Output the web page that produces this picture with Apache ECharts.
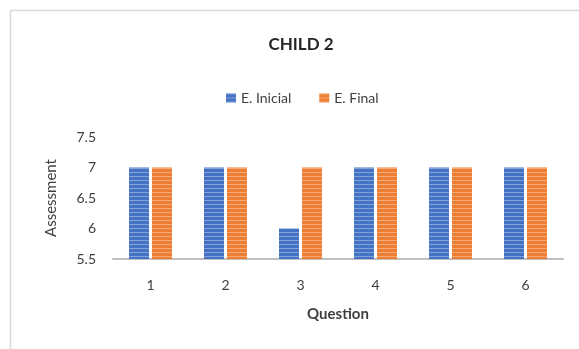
<!DOCTYPE html>
<html>
<head>
<meta charset="utf-8">
<script src="https://cdn.jsdelivr.net/npm/echarts@6/dist/echarts.min.js"></script>
<style>
  html, body { margin: 0; padding: 0; background: #fff; }
  #chart { width: 579px; height: 349px; }
</style>
</head>
<body>
<div id="chart"></div>
<script>
// data
const questions = ['1', '2', '3', '4', '5', '6'];
const inicial = [7, 7, 6, 7, 7, 7];
const final = [7, 7, 7, 7, 7, 7];

const font = 'Lato, "Open Sans", sans-serif';

// horizontal light stripes on the bars
const stripes = {
  symbol: 'rect',
  symbolSize: 1,
  dashArrayX: [1, 0],
  dashArrayY: [1, 2.6],
  rotation: 0,
  color: 'rgba(255,255,255,0.35)'
};

const myChart = echarts.init(document.getElementById('chart'));

const option = {
  animation: false,
  color: ['#4472c4', '#ed7d31'],
  title: {
    text: 'CHILD 2',
    left: 296,
    textAlign: 'center',
    top: 31,
    textStyle: { fontFamily: font, fontSize: 17, fontWeight: 'bold', color: '#262626' }
  },
  legend: {
    left: 221,
    top: 86,
    itemWidth: 10,
    itemHeight: 9,
    itemGap: 28,
    icon: 'rect',
    textStyle: { fontFamily: font, fontSize: 14, color: '#404040' },
    data: ['E. Inicial', 'E. Final']
  },
  grid: { left: 113, right: 16, top: 137, bottom: 90 },
  xAxis: {
    type: 'category',
    data: questions,
    name: 'Question',
    nameLocation: 'middle',
    nameGap: 48,
    nameTextStyle: { fontFamily: font, fontSize: 15, fontWeight: 'bold', color: '#404040' },
    axisLine: { lineStyle: { color: '#bfbfbf', width: 2 } },
    axisTick: { show: false },
    axisLabel: { margin: 19, fontFamily: font, fontSize: 14, color: '#404040' }
  },
  yAxis: {
    type: 'value',
    min: 5.5,
    max: 7.5,
    interval: 0.5,
    name: 'Assessment',
    nameLocation: 'middle',
    nameGap: 54,
    nameTextStyle: { fontFamily: font, fontSize: 15, color: '#404040' },
    axisLine: { show: false },
    axisTick: { show: false },
    splitLine: { show: false },
    axisLabel: { margin: 17, fontFamily: font, fontSize: 14, color: '#404040' }
  },
  series: [
    {
      name: 'E. Inicial',
      type: 'bar',
      data: inicial,
      barWidth: 20,
      barGap: '15%',
      itemStyle: { decal: stripes }
    },
    {
      name: 'E. Final',
      type: 'bar',
      data: final,
      barWidth: 20,
      barGap: '15%',
      itemStyle: { decal: stripes }
    }
  ],
  graphic: [
    {
      type: 'rect',
      silent: true,
      shape: { x: 10.5, y: 10.5, width: 620, height: 400 },
      style: { fill: 'none', stroke: '#d9d9d9', lineWidth: 1.5 }
    }
  ]
};

myChart.setOption(option);

window.addEventListener('resize', () => {
  myChart.resize();
});
</script>
</body>
</html>
